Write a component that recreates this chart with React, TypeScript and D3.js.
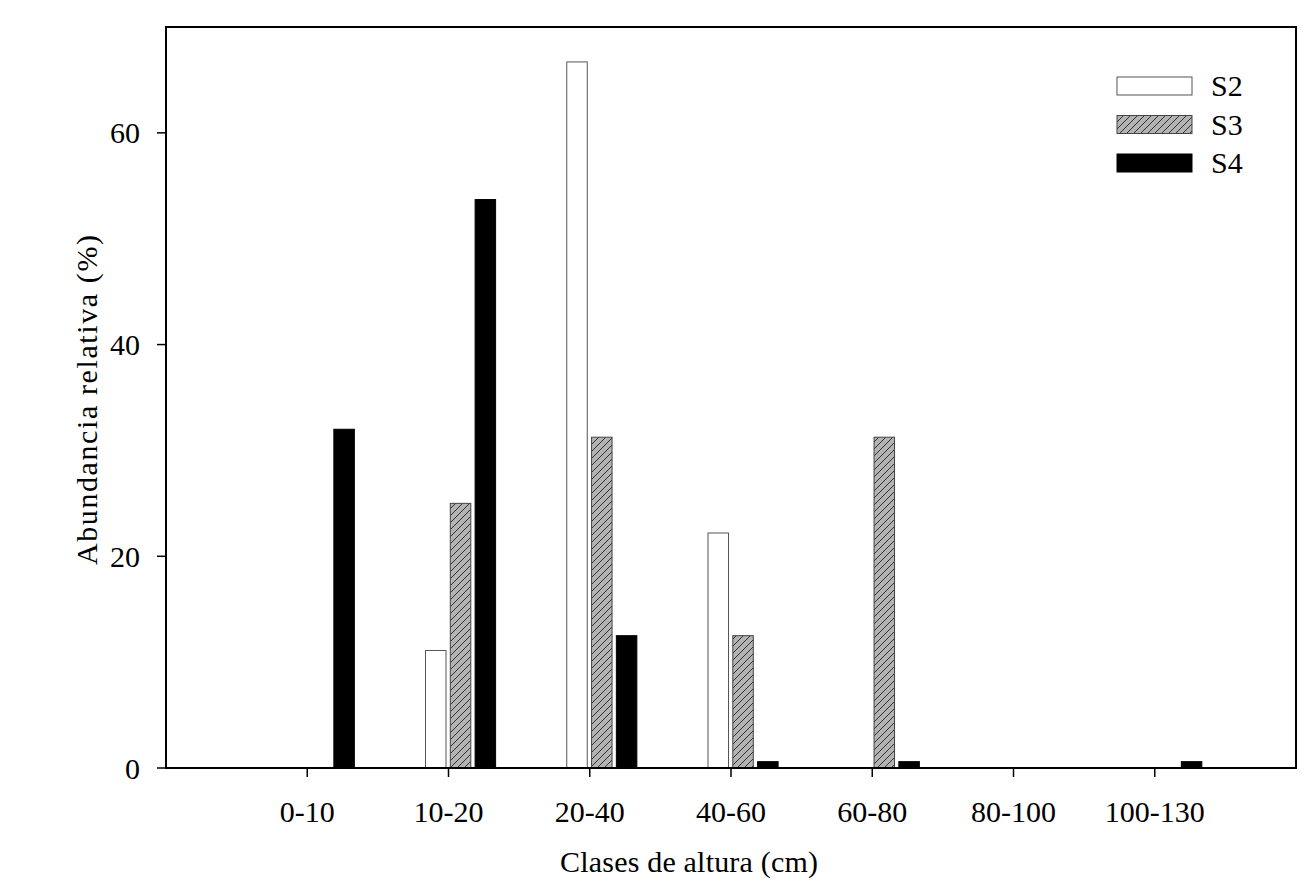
import React from "react";
import * as d3 from "d3";

const categories = ["0-10", "10-20", "20-40", "40-60", "60-80", "80-100", "100-130"];
const seriesNames = ["S2", "S3", "S4"];
const s2Values = [0, 11.1, 66.7, 22.2, 0, 0, 0];
const s3Values = [0, 25.0, 31.25, 12.5, 31.25, 0, 0];
const s4Values = [32.0, 53.7, 12.5, 0.6, 0.6, 0, 0.6];
const yTicks = [0, 20, 40, 60];

const W = 1311;
const H = 890;
const left = 166;
const right = 1296;
const top = 27;
const bottom = 768;
const textStyle = { fontFamily: '"Liberation Serif", "DejaVu Serif", serif', fontSize: "30px" };

export default function App() {
  const x = d3.scaleLinear().domain([0, categories.length + 1]).range([left, right]);
  const y = d3.scaleLinear().domain([0, 70]).range([bottom, top]);
  const barW = 20.5;
  const step = 24.8;
  const offset = -23;
  const series = [s2Values, s3Values, s4Values];
  const fills = ["#ffffff", "url(#hatch)", "#000000"];
  const strokes = ["#555", "#444", "#000"];

  return (
    <svg width={W} height={H} style={{ position: "absolute", left: 0, top: 0, background: "#fff" }}>
      <defs>
        <pattern id="hatch" patternUnits="userSpaceOnUse" width="7" height="7">
          <rect width="7" height="7" fill="#b3b3b3" />
          <path d="M-1,1 L1,-1 M0,7 L7,0 M6,8 L8,6" stroke="#222" strokeWidth="0.9" />
        </pattern>
      </defs>
      <rect x={0} y={0} width={W} height={H} fill="#fff" />
      {series.map((vals, k) =>
        vals.map((v, i) =>
          v > 0 ? (
            <rect
              key={`${k}-${i}`}
              x={x(i + 1) + offset + k * step}
              y={y(v)}
              width={barW}
              height={bottom - y(v)}
              fill={fills[k]}
              stroke={strokes[k]}
              strokeWidth={1}
            />
          ) : null
        )
      )}
      <rect x={left} y={top} width={right - left} height={bottom - top} fill="none" stroke="#000" strokeWidth={2} />
      {yTicks.map((t) => (
        <g key={t}>
          <line x1={left - 9} x2={left} y1={y(t)} y2={y(t)} stroke="#000" strokeWidth={1.5} />
          <text x={140} y={y(t)} dy="0.35em" textAnchor="end" style={textStyle}>
            {t}
          </text>
        </g>
      ))}
      {categories.map((c, i) => (
        <g key={c}>
          <line x1={x(i + 1)} x2={x(i + 1)} y1={bottom} y2={bottom + 9} stroke="#000" strokeWidth={1.5} />
          <text x={x(i + 1)} y={822} textAnchor="middle" style={textStyle}>
            {c}
          </text>
        </g>
      ))}
      <text x={560} y={872} textLength={258} lengthAdjust="spacing" style={textStyle}>
        Clases de altura (cm)
      </text>
      <text
        transform={`translate(97, 565) rotate(-90)`}
        textLength={330}
        lengthAdjust="spacing"
        style={textStyle}
      >
        Abundancia relativa (%)
      </text>
      {seriesNames.map((s, k) => (
        <g key={s}>
          <rect x={1117} y={77 + k * 38.5} width={75} height={18} fill={fills[k]} stroke={strokes[k]} strokeWidth={1} />
          <text x={1211} y={96 + k * 38.5} style={textStyle}>
            {s}
          </text>
        </g>
      ))}
    </svg>
  );
}
